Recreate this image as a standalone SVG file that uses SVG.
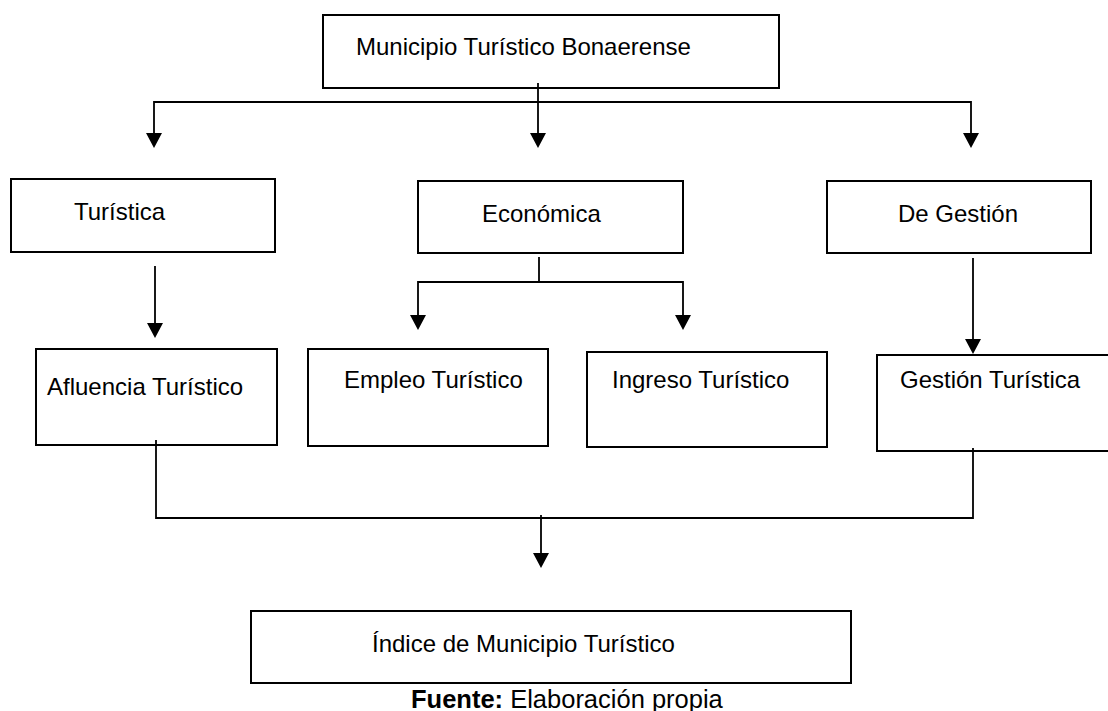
<svg xmlns="http://www.w3.org/2000/svg" width="1108" height="711" viewBox="0 0 1108 711">
<defs>
<style>
.box{fill:#fff;stroke:#000;stroke-width:2}
.t{font-family:"Liberation Sans",Arial,sans-serif;font-size:24px;fill:#000}
.cap{font-size:25.5px}
.c{fill:none;stroke:#000;stroke-width:1.8}
.hd{fill:#000}
</style>
</defs>
<rect width="1108" height="711" fill="#fff"/>
<g id="n-top"><rect class="box" x="323" y="15" width="456" height="73"/><text class="t" x="356" y="55">Municipio Turístico Bonaerense</text></g>
<g id="n-turistica"><rect class="box" x="11" y="179" width="264" height="73"/><text class="t" x="74" y="220">Turística</text></g>
<g id="n-economica"><rect class="box" x="418" y="181" width="265" height="72"/><text class="t" x="482" y="222">Económica</text></g>
<g id="n-gestion"><rect class="box" x="827" y="181" width="264" height="72"/><text class="t" x="898" y="222">De Gestión</text></g>
<g id="n-afluencia"><rect class="box" x="36" y="349" width="241" height="96"/><text class="t" x="47" y="395">Afluencia Turístico</text></g>
<g id="n-empleo"><rect class="box" x="308" y="349" width="240" height="97"/><text class="t" x="344" y="388">Empleo Turístico</text></g>
<g id="n-ingreso"><rect class="box" x="587" y="352" width="240" height="95"/><text class="t" x="612" y="388">Ingreso Turístico</text></g>
<g id="n-gestur"><rect class="box" x="877" y="355" width="240" height="96"/><text class="t" x="900" y="388">Gestión Turística</text></g>
<g id="n-indice"><rect class="box" x="251" y="611" width="600" height="72"/><text class="t" x="372" y="652">Índice de Municipio Turístico</text></g>
<g id="caption"><text class="t cap" x="411" y="708"><tspan font-weight="bold">Fuente:</tspan> Elaboración propia</text></g>
<g id="connectors">
<path class="c" d="M538,83 V134"/>
<path class="c" d="M154,134 V102 H971 V134"/>
<path class="c" d="M155,266 V324"/>
<path class="c" d="M539,257 V282"/>
<path class="c" d="M418,316 V282 H683 V316"/>
<path class="c" d="M973,258 V340"/>
<path class="c" d="M156,440 V518 H973 V448"/>
<path class="c" d="M541,515 V554"/>
<g class="hd">
<path d="M530,133 L546,133 L538,148 Z"/>
<path d="M146,133 L162,133 L154,148 Z"/>
<path d="M963,133 L979,133 L971,148 Z"/>
<path d="M147,323 L163,323 L155,338 Z"/>
<path d="M410,315 L426,315 L418,330 Z"/>
<path d="M675,315 L691,315 L683,330 Z"/>
<path d="M965,339 L981,339 L973,354 Z"/>
<path d="M533,553 L549,553 L541,568 Z"/>
</g>
</g>
</svg>
